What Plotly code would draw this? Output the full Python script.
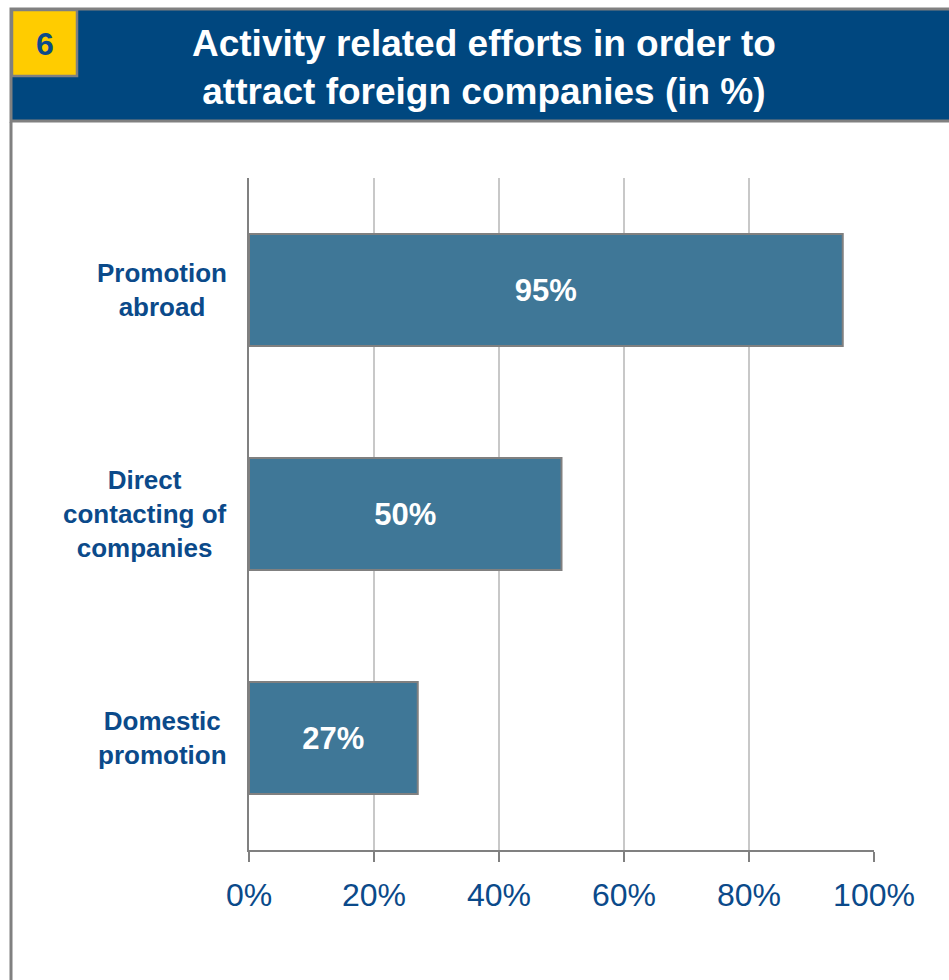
import plotly.graph_objects as go

# Survey results: share of respondents per activity
categories = ["Promotion abroad", "Direct contacting of companies", "Domestic promotion"]
label_text = ["Promotion<br>abroad", "Direct<br>contacting of<br>companies", "Domestic<br>promotion"]
values = [95, 50, 27]
tick_vals = [0, 20, 40, 60, 80, 100]
tick_text = ["0%", "20%", "40%", "60%", "80%", "100%"]

W, H = 949, 980
L, R, T, B = 249, 75, 178, 130
PW, PH = W - L - R, H - T - B

NAVY = "#00477F"
TEXT_BLUE = "#0B4A8A"
BAR = "#3F7797"
GRAY = "#808080"


def px(x):
    return (x - L) / PW


def py(y):
    return (H - B - y) / PH


fig = go.Figure(
    go.Bar(
        x=values,
        y=categories,
        orientation="h",
        marker=dict(color=BAR, line=dict(color=GRAY, width=2)),
        text=[f"{v}%" for v in values],
        textposition="inside",
        insidetextanchor="middle",
        textangle=0,
        textfont=dict(family="Liberation Sans, Arial, sans-serif", size=31, color="white", weight="bold"),
        hoverinfo="skip",
    )
)

shapes = [
    # header band
    dict(type="rect", xref="paper", yref="paper", x0=px(11), x1=px(962), y0=py(121), y1=py(9),
         fillcolor=NAVY, line=dict(color=GRAY, width=3), layer="above"),
    # number badge
    dict(type="rect", xref="paper", yref="paper", x0=px(12), x1=px(77), y0=py(76), y1=py(10),
         fillcolor="#FFCC00", line=dict(color=GRAY, width=2.5), layer="above"),
    # panel left border
    dict(type="line", xref="paper", yref="paper", x0=px(11), x1=px(11), y0=py(122), y1=py(990),
         line=dict(color=GRAY, width=3), layer="above"),
]

annotations = [
    dict(text="6", xref="paper", yref="paper", x=px(44.5), y=py(44), showarrow=False,
         xanchor="center", yanchor="middle",
         font=dict(family="Liberation Sans, Arial, sans-serif", size=32, color=TEXT_BLUE, weight="bold")),
    dict(text="Activity related efforts in order to<br>attract foreign companies (in %)",
         xref="paper", yref="paper", x=px(484), y=py(68), showarrow=False,
         xanchor="center", yanchor="middle", align="center",
         font=dict(family="Liberation Sans, Arial, sans-serif", size=37, color="white", weight="bold")),
]

for cat, lab in zip(categories, label_text):
    annotations.append(
        dict(text=lab, xref="paper", yref="y", x=px(229), y=cat, showarrow=False,
             xanchor="right", yanchor="middle", align="center",
             font=dict(family="Liberation Sans, Arial, sans-serif", size=26, color=TEXT_BLUE, weight="bold"))
    )

fig.update_layout(
    width=W,
    height=H,
    margin=dict(l=L, r=R, t=T, b=B, pad=0),
    paper_bgcolor="white",
    plot_bgcolor="white",
    showlegend=False,
    bargap=0.5,
    shapes=shapes,
    annotations=annotations,
    xaxis=dict(
        range=[0, 100],
        tickvals=tick_vals,
        ticktext=tick_text,
        showgrid=True,
        gridcolor="#C8C8C8",
        gridwidth=2,
        zeroline=False,
        showline=True,
        linecolor=GRAY,
        linewidth=2,
        ticks="outside",
        ticklen=10,
        tickwidth=2,
        tickcolor=GRAY,
        ticklabelstandoff=6,
        tickfont=dict(family="Liberation Sans, Arial, sans-serif", size=32, color=TEXT_BLUE),
        fixedrange=True,
    ),
    yaxis=dict(
        autorange="reversed",
        showticklabels=False,
        showgrid=False,
        zeroline=False,
        showline=True,
        linecolor=GRAY,
        linewidth=2,
        ticks="",
        fixedrange=True,
    ),
)

fig.write_html("out.html")
